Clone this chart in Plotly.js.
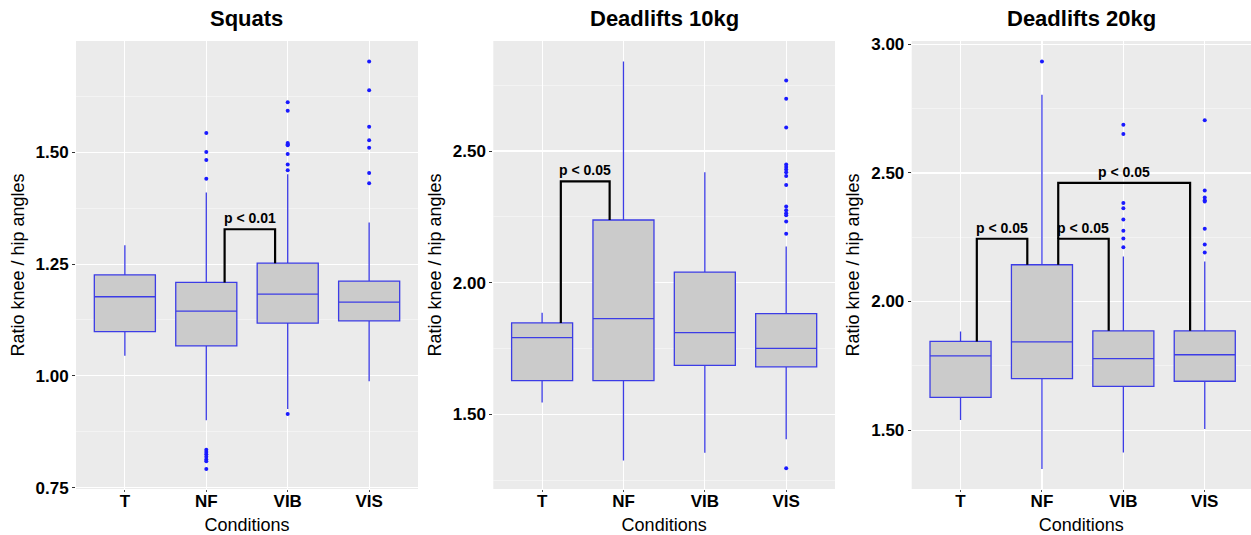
<!DOCTYPE html>
<html>
<head>
<meta charset="utf-8">
<script src="https://cdn.plot.ly/plotly-3.0.1.min.js"></script>
<style>
  html, body { margin: 0; padding: 0; background: #ffffff; }
  #chart { width: 1251px; height: 535px; }
</style>
</head>
<body>
<div id="chart"></div>
<script>
// ---------- Data ----------
const categories = ["T", "NF", "VIB", "VIS"];
const panelTitles = ["Squats", "Deadlifts 10kg", "Deadlifts 20kg"];

// Squats
const sqQ1 = [1.099, 1.067, 1.118, 1.123];
const sqMedian = [1.177, 1.145, 1.183, 1.165];
const sqQ3 = [1.226, 1.209, 1.252, 1.212];
const sqLow = [1.045, 0.901, 0.926, 0.988];
const sqHigh = [1.292, 1.410, 1.451, 1.343];
const sqOutT = [];
const sqOutNF = [1.543, 1.501, 1.483, 1.441, 0.835, 0.830, 0.825, 0.819, 0.813, 0.809, 0.792];
const sqOutVIB = [1.612, 1.593, 1.521, 1.518, 1.516, 1.496, 1.473, 1.460, 0.915];
const sqOutVIS = [1.703, 1.639, 1.557, 1.527, 1.510, 1.454, 1.431];

// Deadlifts 10kg
const d10Q1 = [1.628, 1.628, 1.686, 1.680];
const d10Median = [1.791, 1.863, 1.810, 1.750];
const d10Q3 = [1.847, 2.238, 2.040, 1.882];
const d10Low = [1.545, 1.324, 1.354, 1.405];
const d10High = [1.886, 2.840, 2.419, 2.137];
const d10OutT = [];
const d10OutNF = [];
const d10OutVIB = [];
const d10OutVIS = [2.768, 2.699, 2.589, 2.449, 2.439, 2.430, 2.419, 2.405, 2.371, 2.289, 2.275, 2.264, 2.256, 2.232, 2.186, 1.295];

// Deadlifts 20kg
const d20Q1 = [1.627, 1.700, 1.670, 1.690];
const d20Median = [1.789, 1.843, 1.778, 1.793];
const d20Q3 = [1.845, 2.143, 1.886, 1.886];
const d20Low = [1.539, 1.349, 1.413, 1.504];
const d20High = [1.883, 2.804, 2.175, 2.156];
const d20OutT = [];
const d20OutNF = [2.933];
const d20OutVIB = [2.687, 2.651, 2.383, 2.363, 2.319, 2.275, 2.245, 2.211];
const d20OutVIS = [2.705, 2.432, 2.404, 2.394, 2.389, 2.283, 2.222, 2.191];

// Significance brackets: [leftX, rightX, leftBottom, top, rightBottom, label]
const sqBrackets = [[1.225, 1.845, 1.209, 1.328, 1.252, "p < 0.01"]];
const d10Brackets = [[0.23, 0.83, 1.847, 2.385, 2.238, "p < 0.05"]];
const d20Brackets = [
  [0.20, 0.82, 1.845, 2.244, 2.143, "p < 0.05"],
  [1.20, 1.82, 2.143, 2.244, 1.886, "p < 0.05"],
  [1.20, 2.82, 2.244, 2.461, 1.886, "p < 0.05"]
];

const yTitle = "Ratio knee / hip angles";
const xTitle = "Conditions";

// ---------- Build ----------
const FONT = "Liberation Sans, Arial, sans-serif";
const W = 1251, H = 535;
const catIdx = categories.map((c, i) => i);

const panels = [
  {q1: sqQ1, med: sqMedian, q3: sqQ3, lo: sqLow, hi: sqHigh, out: [sqOutT, sqOutNF, sqOutVIB, sqOutVIS], br: sqBrackets,
   xdom: [76 / W, 418 / W], xr: [-0.6, 3.6], yr: [0.747, 1.749], dtick: 0.25, minor: 0.125, tick0: 0.75},
  {q1: d10Q1, med: d10Median, q3: d10Q3, lo: d10Low, hi: d10High, out: [d10OutT, d10OutNF, d10OutVIB, d10OutVIS], br: d10Brackets,
   xdom: [493.3 / W, 835 / W], xr: [-0.6, 3.6], yr: [1.216, 2.918], dtick: 0.5, minor: 0.25, tick0: 1.5},
  {q1: d20Q1, med: d20Median, q3: d20Q3, lo: d20Low, hi: d20High, out: [d20OutT, d20OutNF, d20OutVIB, d20OutVIS], br: d20Brackets,
   xdom: [911.7 / W, 1.0], xr: [-0.6, 3.568], yr: [1.271, 3.013], dtick: 0.5, minor: 0.25, tick0: 1.5}
];

const traces = [];
const annotations = [];
const layout = {
  width: W, height: H,
  margin: {l: 0, r: 0, t: 0, b: 0},
  paper_bgcolor: "#ffffff",
  plot_bgcolor: "#EBEBEB",
  showlegend: false,
  font: {family: FONT, color: "#000000"},
  annotations: annotations
};

const ydom = [1 - 489 / H, 1 - 41 / H];

panels.forEach((p, k) => {
  const n = k === 0 ? "" : String(k + 1);
  const xa = "x" + n, ya = "y" + n;

  traces.push({
    type: "box", xaxis: xa, yaxis: ya,
    x: catIdx, q1: p.q1, median: p.med, q3: p.q3,
    lowerfence: p.lo, upperfence: p.hi,
    width: 0.75, whiskerwidth: 0,
    fillcolor: "#CBCBCB",
    line: {color: "#3c3ce6", width: 1.3},
    hoverinfo: "skip"
  });

  const ox = [], oy = [];
  p.out.forEach((arr, i) => arr.forEach(v => { ox.push(i); oy.push(v); }));
  traces.push({
    type: "scatter", mode: "markers", xaxis: xa, yaxis: ya,
    x: ox, y: oy,
    marker: {color: "#1a1aff", size: 4},
    hoverinfo: "skip"
  });

  p.br.forEach(b => {
    traces.push({
      type: "scatter", mode: "lines", xaxis: xa, yaxis: ya,
      x: [b[0], b[0], b[1], b[1]], y: [b[2], b[3], b[3], b[4]],
      line: {color: "#000000", width: 2.2},
      hoverinfo: "skip"
    });
    annotations.push({
      xref: xa, yref: ya, x: (b[0] + b[1]) / 2, y: b[3],
      text: "<b>" + b[5] + "</b>", showarrow: false,
      yanchor: "bottom", yshift: 1,
      font: {family: FONT, size: 14, color: "#000000"}
    });
  });

  annotations.push({
    xref: xa + " domain", yref: "paper", x: 0.5, y: 1 - 19 / H,
    xanchor: "center", yanchor: "middle",
    text: "<b>" + panelTitles[k] + "</b>", showarrow: false,
    font: {family: FONT, size: 22, color: "#000000"}
  });

  layout["xaxis" + n] = {
    domain: p.xdom, anchor: ya, range: p.xr,
    tickmode: "array", tickvals: catIdx, ticktext: categories,
    showgrid: true, gridcolor: "#FFFFFF", gridwidth: 1.2,
    zeroline: false, showline: false,
    ticks: "outside", ticklen: 2, tickcolor: "#555555",
    ticklabelstandoff: -5,
    tickfont: {family: FONT, size: 17, color: "#000000", weight: "bold"},
    title: {text: xTitle, font: {family: FONT, size: 18, color: "#000000"}, standoff: 13}
  };
  layout["yaxis" + n] = {
    domain: ydom, anchor: xa, range: p.yr,
    tick0: p.tick0, dtick: p.dtick, tickformat: ".2f",
    showgrid: true, gridcolor: "#FFFFFF", gridwidth: 1.2,
    minor: {dtick: p.minor, tick0: p.tick0, showgrid: true, gridcolor: "#F6F6F6", gridwidth: 0.7, ticks: ""},
    zeroline: false, showline: false,
    ticks: "outside", ticklen: 3, tickcolor: "#333333",
    tickfont: {family: FONT, size: 17, color: "#000000", weight: "bold"},
    title: {text: yTitle, font: {family: FONT, size: 18, color: "#000000"}, standoff: 6}
  };
});

Plotly.newPlot("chart", traces, layout, {staticPlot: true, displayModeBar: false});
</script>
</body>
</html>
